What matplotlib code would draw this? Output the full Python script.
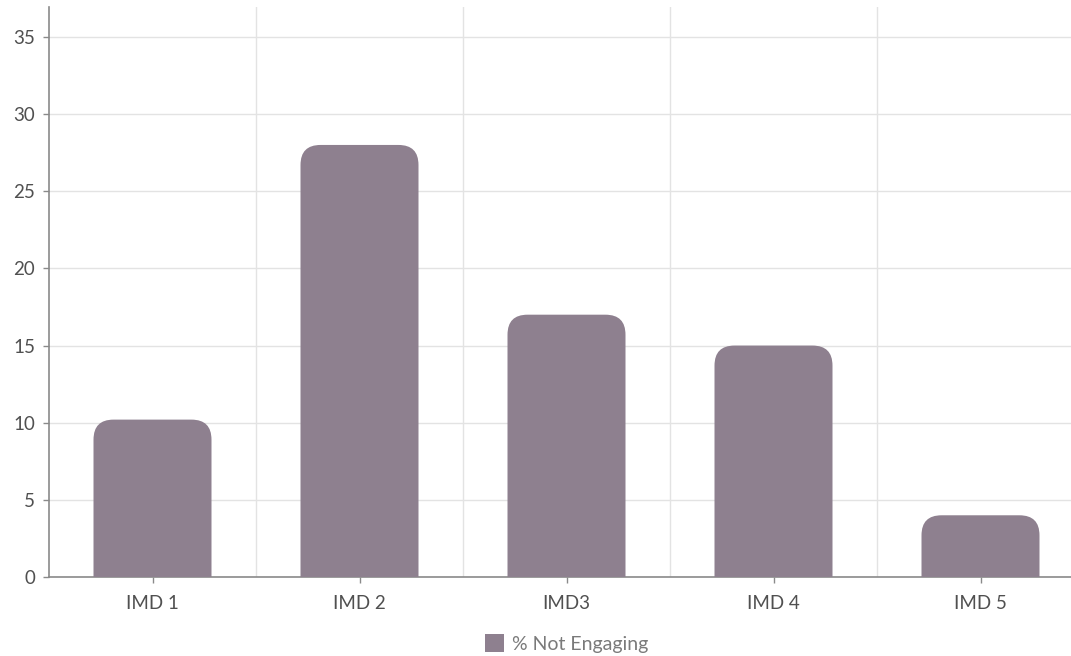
import numpy as np
import matplotlib.pyplot as plt
from matplotlib.patches import FancyBboxPatch
from matplotlib.ticker import FixedLocator

plt.rcParams['font.family'] = ['Lato', 'DejaVu Sans']

categories = ['IMD 1', 'IMD 2', 'IMD3', 'IMD 4', 'IMD 5']
not_engaging = [10.2, 28.0, 17.0, 15.0, 4.0]
series_name = '% Not Engaging'

bar_color = '#8e808f'
grid_color = '#e3e3e3'
axis_color = '#8a8a8a'
text_color = '#505050'

W, H = 1071, 656
fig = plt.figure(figsize=(W / 100, H / 100), dpi=100)
# axes runs a little past the right edge of the figure
ax = fig.add_axes([49 / W, 79 / H, 1035 / W, 570 / H])

x = np.arange(len(categories))
ax.set_xlim(-0.5, len(categories) - 0.5)
ax.set_ylim(0, 36.94)

bar_width = 0.57
# px per data unit, for round corners that look the same in both directions
px_x = 1035 / len(categories)
px_y = 570 / 36.94
radius_px = 20
rx = radius_px / px_x
aspect = (radius_px / px_y) / rx

bars = ax.bar(x, not_engaging, width=bar_width, color=bar_color, label=series_name)
for b in bars:
    b.set_visible(False)
    # extend below zero so only the top corners show as rounded
    patch = FancyBboxPatch((b.get_x(), -2), b.get_width(), b.get_height() + 2,
                           boxstyle='round,pad=0,rounding_size=%f' % rx,
                           mutation_aspect=aspect,
                           facecolor=bar_color, edgecolor='none', zorder=3)
    ax.add_patch(patch)

ax.set_yticks(range(0, 36, 5))
ax.set_xticks(x)
ax.set_xticklabels(categories)
ax.xaxis.set_minor_locator(FixedLocator(x[:-1] + 0.5))

ax.grid(axis='y', which='major', color=grid_color, linewidth=1.0, zorder=0)
ax.grid(axis='x', which='minor', color=grid_color, linewidth=1.0, zorder=0)
ax.set_axisbelow(True)

for side in ['top', 'right']:
    ax.spines[side].set_visible(False)
for side in ['left', 'bottom']:
    ax.spines[side].set_color(axis_color)
    ax.spines[side].set_linewidth(1.2)

ax.tick_params(axis='y', length=4, width=1, color=axis_color, pad=6,
               labelsize=13.5, labelcolor=text_color)
ax.tick_params(axis='x', which='major', length=4, width=1, color=axis_color,
               pad=9, labelsize=13.5, labelcolor=text_color)
ax.tick_params(axis='x', which='minor', length=0)

handle = FancyBboxPatch((0, 0), 1, 1, boxstyle='round,pad=0,rounding_size=0.2',
                        facecolor=bar_color, edgecolor='none')
leg = ax.legend([handle], [series_name], loc='upper center',
                bbox_to_anchor=(0.5, -0.07), frameon=False, fontsize=14,
                handlelength=1.0, handleheight=1.0, handletextpad=0.4)
for t in leg.get_texts():
    t.set_color('#7a7a7a')

fig.savefig('out.png', dpi=100)
